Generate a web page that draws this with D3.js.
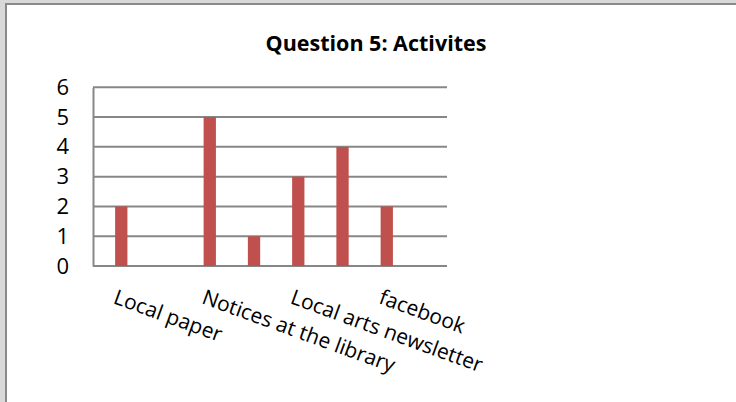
<!DOCTYPE html>
<html>
<head>
<meta charset="utf-8">
<script src="https://cdn.jsdelivr.net/npm/d3@7"></script>
<style>
  html, body { margin: 0; padding: 0; background: #d9d9d9; }
  svg { display: block; }
  text { font-family: "Open Sans", sans-serif; fill: #000; }
</style>
</head>
<body>
<svg id="chart" width="736" height="402"></svg>
<script>
// 8 category slots, Excel only printed every second label
var categories = ['Local paper', '', 'Notices at the library', '', 'Local arts newsletter', '', 'facebook', ''];
var values = [2, 0, 5, 1, 3, 4, 2, 0];
var yTicks = [0, 1, 2, 3, 4, 5, 6];
var title = 'Question 5: Activites';

var svg = d3.select('#chart'),
    width = 736, height = 402;

// chart frame
svg.append('rect').attr('x', 6).attr('y', 4).attr('width', width).attr('height', height)
    .attr('fill', '#fff').attr('stroke', '#8a8a8a').attr('stroke-width', 2);

var plot = {left: 93, right: 447, top: 87.3, bottom: 266};

var x = d3.scaleBand()
    .domain(d3.range(categories.length))
    .range([plot.left, plot.right])
    .padding(0);

// bar sits in the second half of each slot (clustered layout, first series empty)
var xInner = d3.scaleBand()
    .domain(['a', 'b'])
    .range([0, x.bandwidth()])
    .paddingInner(0)
    .paddingOuter(0.8);

var y = d3.scaleLinear()
    .domain([0, 6])
    .range([plot.bottom, plot.top]);

svg.append('text')
    .attr('x', 376).attr('y', 50.5)
    .attr('text-anchor', 'middle')
    .attr('font-weight', 'bold')
    .attr('font-size', '21.5px')
    .text(title);

// gridlines
svg.append('g')
    .selectAll('line')
    .data(yTicks)
    .enter()
    .append('line')
    .attr('x1', plot.left).attr('x2', plot.right)
    .attr('y1', function(d) { return y(d); })
    .attr('y2', function(d) { return y(d); })
    .attr('stroke', '#878787')
    .attr('stroke-width', 2);

// y axis
var yAxis = svg.append('g')
    .attr('transform', 'translate(' + plot.left + ',0)')
    .call(d3.axisLeft(y).tickValues(yTicks).tickSize(0).tickPadding(24).tickFormat(d3.format('d')));
yAxis.select('.domain').attr('stroke', '#878787').attr('stroke-width', 2);
yAxis.selectAll('text')
    .attr('font-size', '22px')
    .attr('font-family', '"Open Sans", sans-serif');

// bars
svg.append('g')
    .selectAll('rect')
    .data(values)
    .enter()
    .append('rect')
    .attr('x', function(d, i) { return x(i) + xInner('b'); })
    .attr('y', function(d) { return y(d); })
    .attr('width', xInner.bandwidth())
    .attr('height', function(d) { return y(0) - y(d); })
    .attr('fill', '#c0504d');

// category labels, rotated
svg.append('g')
    .selectAll('text')
    .data(categories)
    .enter()
    .filter(function(d) { return d !== ''; })
    .append('text')
    .attr('transform', function(d, i) {
        var idx = categories.indexOf(d);
        var cx = x(idx) + x.bandwidth() / 2 - 3;
        return 'translate(' + cx + ',303) rotate(20)';
    })
    .attr('font-size', '21px')
    .text(function(d) { return d; });
</script>
</body>
</html>
